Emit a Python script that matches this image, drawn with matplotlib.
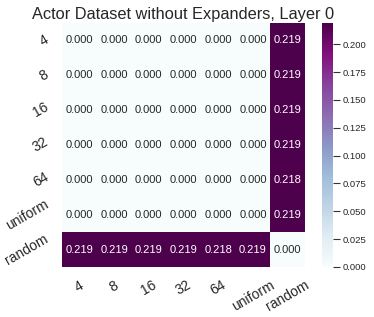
import numpy as np
import matplotlib
matplotlib.use("Agg")
import matplotlib.pyplot as plt
import seaborn as sns

labels = ["4", "8", "16", "32", "64", "uniform", "random"]
row_4 = [0.000, 0.000, 0.000, 0.000, 0.000, 0.000, 0.219]
row_8 = [0.000, 0.000, 0.000, 0.000, 0.000, 0.000, 0.219]
row_16 = [0.000, 0.000, 0.000, 0.000, 0.000, 0.000, 0.219]
row_32 = [0.000, 0.000, 0.000, 0.000, 0.000, 0.000, 0.219]
row_64 = [0.000, 0.000, 0.000, 0.000, 0.000, 0.000, 0.218]
row_uniform = [0.000, 0.000, 0.000, 0.000, 0.000, 0.000, 0.219]
row_random = [0.219, 0.219, 0.219, 0.219, 0.218, 0.219, 0.000]
title = "Actor Dataset without Expanders, Layer 0"

data = np.array([row_4, row_8, row_16, row_32, row_64, row_uniform, row_random])

sns.set_theme(style="white")
plt.rcParams['font.family'] = ['Liberation Sans', 'DejaVu Sans']

fig = plt.figure(figsize=(3.74, 3.17), dpi=100)
ax = fig.add_axes([62/374, 1-267/317, 243/374, 244/317])
cax = fig.add_axes([322/374, 1-267/317, 11/374, 244/317])

sns.heatmap(data, ax=ax, cbar_ax=cax, cmap="BuPu", annot=True, fmt=".3f",
            annot_kws={"fontsize": 8}, xticklabels=labels, yticklabels=labels,
            square=False)
ax.set_title(title, fontsize=11.8, pad=3)
ax.set_xticklabels(labels, rotation=30, fontsize=10)
ax.set_yticklabels(labels, rotation=30, fontsize=10)
ax.tick_params(axis='both', length=0, pad=8)
cax.tick_params(axis='y', labelsize=6.8, length=5, width=0.8, right=True, color='#333333', pad=2)
cax.set_yticks([0, 0.025, 0.05, 0.075, 0.1, 0.125, 0.15, 0.175, 0.2])
cax.yaxis.set_major_formatter(matplotlib.ticker.FormatStrFormatter('%.3f'))

fig.savefig("out.png", dpi=100)
